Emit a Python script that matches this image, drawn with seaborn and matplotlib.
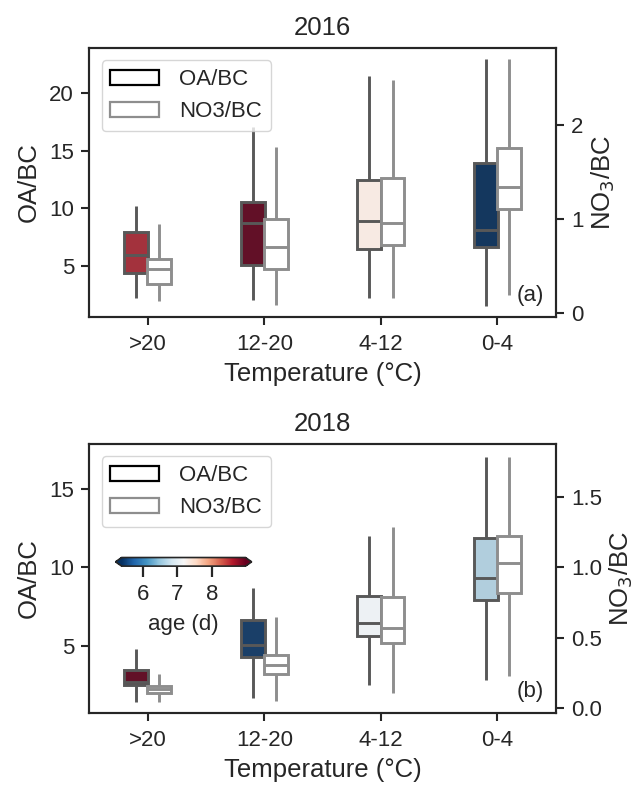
import numpy as np
import pandas as pd
import matplotlib
matplotlib.use("Agg")
import matplotlib.pyplot as plt
from matplotlib.patches import Patch
from matplotlib.cm import ScalarMappable
from matplotlib.colors import Normalize
import seaborn as sns

# Temperature bins (°C)
temp_bins = [">20", "12-20", "4-12", "0-4"]

# Five-number summaries per bin: [low whisker, Q1, median, Q3, high whisker]
oa_bc_2016 = [[2.2, 4.35, 5.95, 7.9, 10.2],
              [2.0, 5.1, 8.7, 10.55, 17.0],
              [2.2, 6.43, 8.9, 12.45, 21.5],
              [1.5, 6.65, 8.1, 13.95, 22.95]]
no3_bc_2016 = [[0.12, 0.305, 0.465, 0.57, 0.94],
               [0.08, 0.46, 0.70, 1.0, 1.77],
               [0.16, 0.72, 0.95, 1.43, 2.48],
               [0.19, 1.1, 1.34, 1.75, 2.70]]
oa_bc_2018 = [[1.4, 2.45, 2.65, 3.45, 4.8],
              [1.64, 4.26, 5.04, 6.64, 8.67],
              [2.49, 5.58, 6.43, 8.18, 12.0],
              [2.81, 7.92, 9.31, 11.9, 17.08]]
no3_bc_2018 = [[0.04, 0.106, 0.134, 0.16, 0.24],
               [0.047, 0.24, 0.307, 0.377, 0.644],
               [0.106, 0.46, 0.571, 0.79, 1.286],
               [0.224, 0.814, 1.027, 1.22, 1.78]]

# Mean air-mass age (days) per bin, used to colour the OA/BC boxes
age_2016 = [8.55, 8.9, 7.35, 5.45]
age_2018 = [8.9, 5.5, 7.07, 6.6]

AGE_MIN, AGE_MAX = 5.4, 8.95

sns.set_theme(style="ticks")
plt.rcParams["font.family"] = ["Liberation Sans", "DejaVu Sans"]
plt.rcParams["axes.edgecolor"] = "#262626"
plt.rcParams["axes.linewidth"] = 1.5

cmap = plt.get_cmap("RdBu_r")
norm = Normalize(AGE_MIN, AGE_MAX)

OA_EDGE = "#585858"
NO3_EDGE = "#8e8e8e"

TICK_FS = 16
LABEL_FS = 18.5
TITLE_FS = 18.5
LEGEND_FS = 16


def long_frame(summaries, offset):
    rows = []
    for i, (lab, vals) in enumerate(zip(temp_bins, summaries)):
        for v in vals:
            rows.append({"pos": i + offset, "bin": lab, "value": v})
    return pd.DataFrame(rows)


def panel(ax, title, oa, no3, ages, oa_lim, no3_lim, oa_ticks, no3_ticks,
          no3_fmt, tag):
    ax2 = ax.twinx()
    df_oa = long_frame(oa, -0.1)
    df_no3 = long_frame(no3, 0.1)
    pal = {lab: cmap(norm(a)) for lab, a in zip(temp_bins, ages)}
    sns.boxplot(data=df_oa, x="pos", y="value", hue="bin", palette=pal,
                hue_order=temp_bins, native_scale=True, dodge=False,
                width=0.205, whis=(0, 100), showcaps=False, showfliers=False,
                linecolor=OA_EDGE, linewidth=2.1, legend=False, ax=ax)
    sns.boxplot(data=df_no3, x="pos", y="value", color="white",
                native_scale=True, width=0.205, whis=(0, 100),
                showcaps=False, showfliers=False, linecolor=NO3_EDGE,
                linewidth=2.1, ax=ax2)
    for a in (ax, ax2):
        a.set_xlim(-0.5, 3.5)
    ax.set_xticks(range(len(temp_bins)))
    ax.set_xticklabels(temp_bins)
    ax.set_ylim(*oa_lim)
    ax2.set_ylim(*no3_lim)
    ax.set_yticks(oa_ticks)
    ax2.set_yticks(no3_ticks)
    ax2.set_yticklabels([no3_fmt.format(t) for t in no3_ticks])
    ax.set_xlabel("Temperature (°C)", fontsize=LABEL_FS, labelpad=5)
    ax.set_ylabel("OA/BC", fontsize=LABEL_FS, labelpad=6)
    ax2.set_ylabel("NO$_3$/BC", fontsize=LABEL_FS, labelpad=4)
    ax.set_title(title, fontsize=TITLE_FS, pad=9)
    for a in (ax, ax2):
        a.tick_params(labelsize=TICK_FS, length=6, width=1.5, pad=5)
        for s in a.spines.values():
            s.set_visible(True)
            s.set_linewidth(1.5)
    ax.tick_params(axis="x", pad=6)
    ax.text(0.975, 0.04, tag, transform=ax.transAxes, ha="right",
            va="bottom", fontsize=16)
    handles = [Patch(facecolor="white", edgecolor="black", linewidth=1.6,
                     label="OA/BC"),
               Patch(facecolor="white", edgecolor=NO3_EDGE, linewidth=1.6,
                     label="NO3/BC")]
    ax2.legend(handles=handles, loc="upper left", fontsize=LEGEND_FS,
               frameon=True, handlelength=2.2, handletextpad=0.9,
               borderaxespad=0.55)
    return ax2


fig = plt.figure(figsize=(6.37, 7.85), dpi=100)
ax_a = fig.add_axes([0.1403, 0.5962, 0.7322, 0.3427])
ax_b = fig.add_axes([0.1403, 0.0917, 0.7322, 0.3427])

panel(ax_a, "2016", oa_bc_2016, no3_bc_2016, age_2016,
      (0.55, 23.9), (-0.046, 2.82), [5, 10, 15, 20], [0, 1, 2], "{:.0f}",
      "(a)")
ax2_b = panel(ax_b, "2018", oa_bc_2018, no3_bc_2018, age_2018,
              (0.68, 17.9), (-0.035, 1.873), [5, 10, 15],
              [0.0, 0.5, 1.0, 1.5], "{:.1f}", "(b)")

# Age colour scale, drawn as an inset in the lower panel
cax = ax2_b.inset_axes([0.056, 0.546, 0.292, 0.032])
cb = fig.colorbar(ScalarMappable(norm=norm, cmap=cmap), cax=cax,
                  orientation="horizontal", extend="both", ticks=[6, 7, 8])
cb.outline.set_linewidth(1.2)
cb.ax.tick_params(labelsize=16, length=8, width=1.6, pad=5)
cb.set_label("age (d)", fontsize=16, labelpad=6)

fig.savefig("out.png", dpi=100)
